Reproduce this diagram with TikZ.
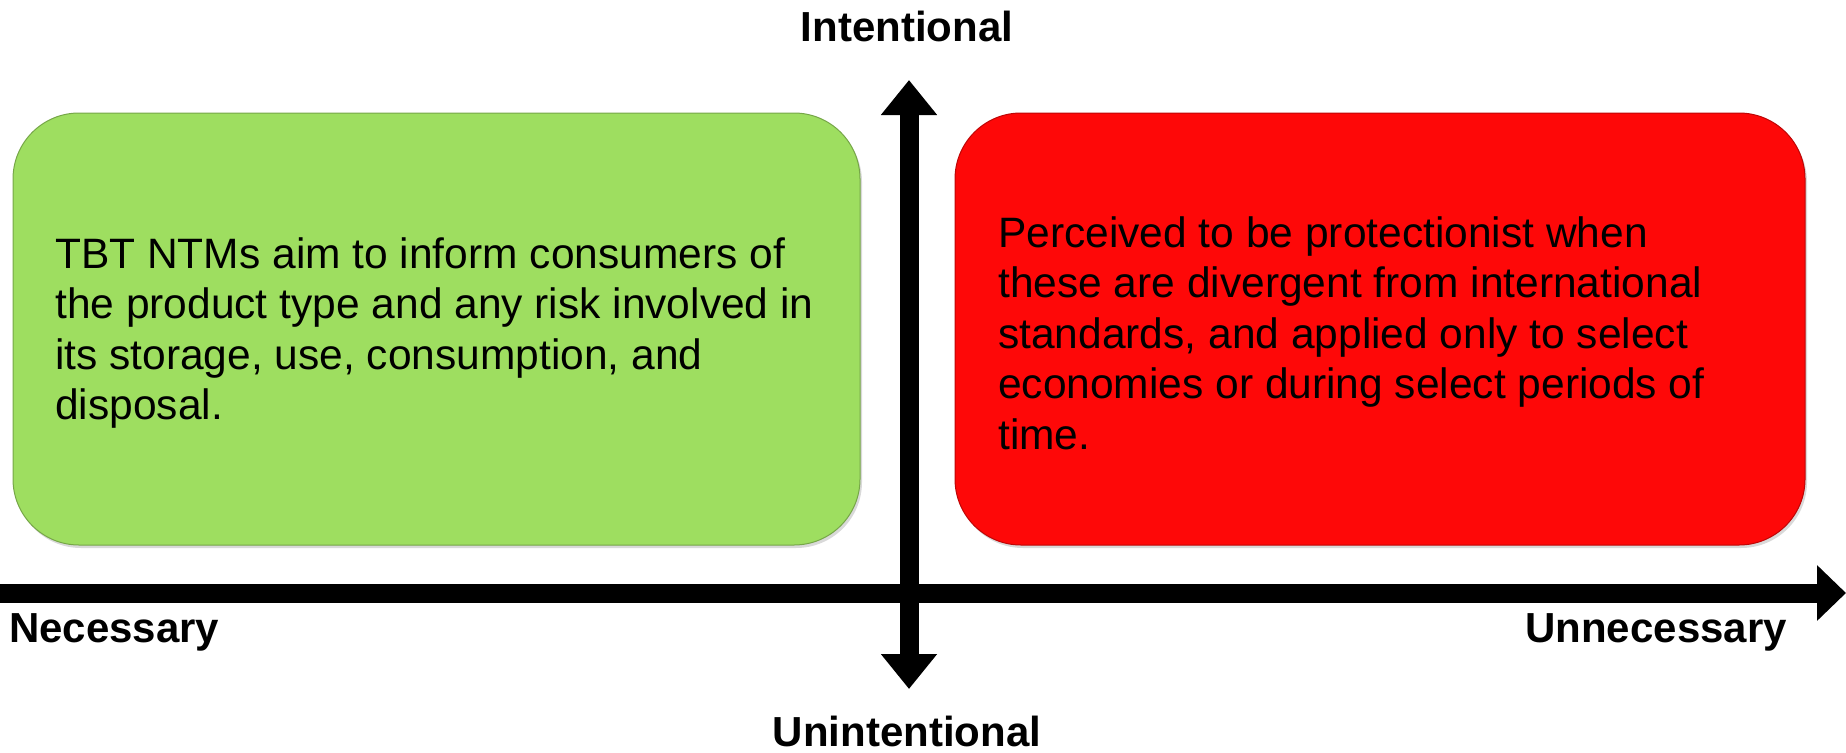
\documentclass[tikz,border=0pt]{standalone}
\usepackage{fontspec}
\setmainfont{Liberation Sans}
\usetikzlibrary{arrows.meta,shadows}

\definecolor{boxgreen}{RGB}{158,222,96}
\definecolor{boxred}{RGB}{254,8,8}

\tikzset{
  quadbox/.style={draw=#1!75!black, line width=1pt, fill=#1, rounded corners=66pt,
    minimum height=432pt, inner sep=0pt,
    drop shadow={shadow xshift=2pt, shadow yshift=-3pt, opacity=0.3}},
  bodytext/.style={anchor=north west, align=left, inner sep=0pt,
    font=\fontsize{42.5}{50.5}\selectfont},
  axislabel/.style={inner sep=0pt, font=\fontsize{42}{50}\selectfont\bfseries},
  axis/.style={line width=19pt}
}

\begin{document}
\begin{tikzpicture}[x=1pt, y=-1pt]
  \useasboundingbox (0,0) rectangle (1846,752);

  % the two quadrants
  \node[quadbox=boxgreen, minimum width=847pt] (necbox) at (436.5,329) {};
  \node[quadbox=boxred, minimum width=850pt] (unnecbox) at (1380,329) {};

  \node[bodytext] (nectext) at (55,237) {TBT NTMs aim to inform consumers of\\
    the product type and any risk involved in\\
    its storage, use, consumption, and\\
    disposal.};
  \node[bodytext] (unnectext) at (998,216) {Perceived to be protectionist when\\
    these are divergent from international\\
    standards, and applied only to select\\
    economies or during select periods of\\
    time.};

  % axes
  \coordinate (west) at (0,593);
  \coordinate (east) at (1846,593);
  \coordinate (north) at (909,80);
  \coordinate (south) at (909,689);
  \draw[axis, -{Triangle[width=54pt,length=29pt]}] (west) -- (east);
  \draw[axis, {Triangle[width=54pt,length=35pt]}-{Triangle[width=54pt,length=35pt]}] (south) -- (north);

  \node[axislabel, anchor=base] (intent) at (907,42) {Intentional};
  \node[axislabel, anchor=base] (unintent) at (907,746) {Unintentional};
  \node[axislabel, anchor=base west] (nec) at (9,642) {Necessary};
  \node[axislabel, anchor=base east] (unnec) at (1787,642) {Unnecessary};
\end{tikzpicture}
\end{document}
